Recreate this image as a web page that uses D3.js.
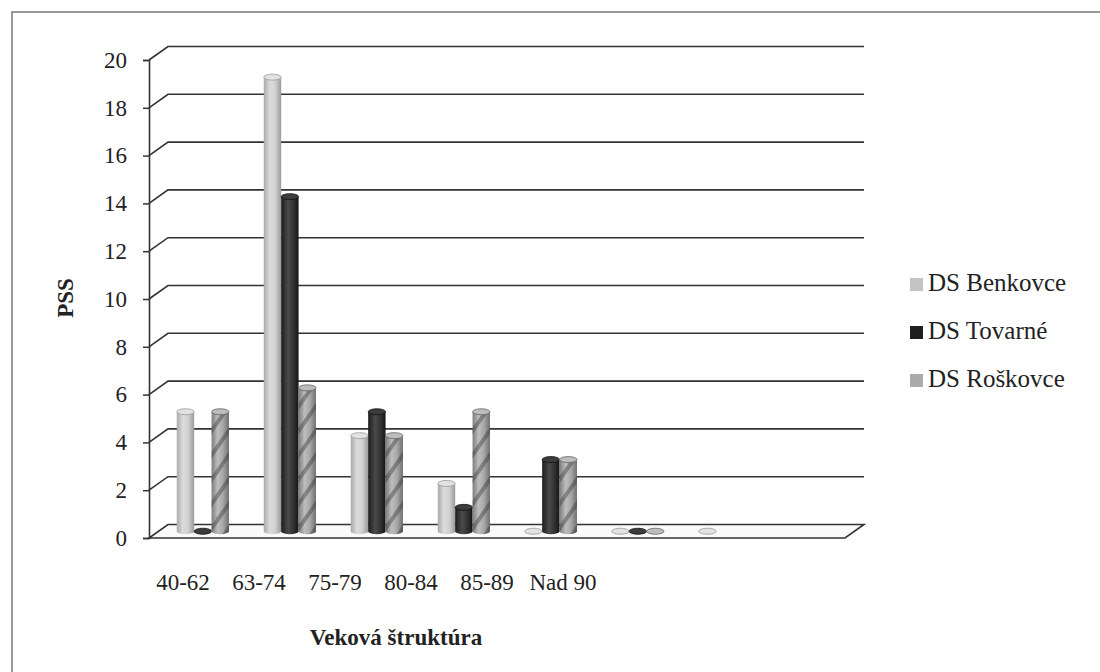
<!DOCTYPE html>
<html>
<head>
<meta charset="utf-8">
<script src="https://cdn.jsdelivr.net/npm/d3@7"></script>
<style>
  body { margin: 0; background: #fff; }
  svg text { font-family: "Liberation Serif", "Times New Roman", Times, "DejaVu Serif", serif !important; fill: #222; }
</style>
</head>
<body>
<div id="chart"></div>
<script>
var categories = ["40-62", "63-74", "75-79", "80-84", "85-89", "Nad 90", "", ""];
var seriesNames = ["DS Benkovce", "DS Tovarné", "DS Roškovce"];
var benkovce = [5, 19, 4, 2, 0, 0, 0, null];
var tovarne = [0, 14, 5, 1, 3, 0, null, null];
var roskovce = [5, 6, 4, 5, 3, 0, null, null];
var yTicks = [0, 2, 4, 6, 8, 10, 12, 14, 16, 18, 20];

var width = 1100, height = 672;
var plotLeft = 149, plotRight = 845, plotBottom = 538, plotTop = 60;
var depthX = 19, depthY = -13.5;
var serif = "'Liberation Serif', 'Times New Roman', Times, 'DejaVu Serif', serif";

var svg = d3.select("#chart").append("svg")
  .attr("width", width)
  .attr("height", height);

var defs = svg.append("defs");

function cylGradient(id, stops) {
  var g = defs.append("linearGradient").attr("id", id)
    .attr("x1", "0%").attr("x2", "100%").attr("y1", "0%").attr("y2", "0%");
  stops.forEach(function(s) {
    g.append("stop").attr("offset", s[0]).attr("stop-color", s[1]);
  });
}
cylGradient("g0", [["0%", "#a9a9a9"], ["35%", "#dcdcdc"], ["65%", "#d2d2d2"], ["100%", "#9a9a9a"]]);
cylGradient("g1", [["0%", "#1c1c1c"], ["40%", "#4a4a4a"], ["70%", "#333"], ["100%", "#151515"]]);
cylGradient("g2", [["0%", "#7d7d7d"], ["35%", "#bdbdbd"], ["65%", "#a8a8a8"], ["100%", "#6f6f6f"]]);

var pat = defs.append("pattern").attr("id", "streak")
  .attr("width", 14).attr("height", 22)
  .attr("patternUnits", "userSpaceOnUse")
  .attr("patternTransform", "rotate(35)");
pat.append("rect").attr("width", 4).attr("height", 22).attr("fill", "#333").attr("opacity", 0.4);

var fills = ["url(#g0)", "url(#g1)", "url(#g2)"];
var swatch = ["#c4c4c4", "#1f1f1f", "#ababab"];

var y = d3.scaleLinear().domain([0, 20]).range([plotBottom, plotTop]);
var x0 = d3.scaleBand().domain(d3.range(categories.length)).range([plotLeft, plotRight]);
var x1 = d3.scaleBand().domain(d3.range(seriesNames.length))
  .range([x0.bandwidth() * 0.21, x0.bandwidth() * 0.81]);

// outer frame (cropped on the right and bottom)
svg.append("path")
  .attr("d", "M12," + height + "V12H" + width)
  .attr("fill", "none")
  .attr("stroke", "#777")
  .attr("stroke-width", 1.5);

// floor
svg.append("path")
  .attr("d", "M" + plotLeft + "," + plotBottom + "H" + plotRight +
    "L" + (plotRight + depthX) + "," + (plotBottom + depthY) +
    "H" + (plotLeft + depthX) + "Z")
  .attr("fill", "#fafafa")
  .attr("stroke", "#333")
  .attr("stroke-width", 1.6);

// grid lines with the 3D step
var grid = svg.append("g");
grid.selectAll("path").data(yTicks.slice(1)).enter().append("path")
  .attr("d", function(d) {
    return "M" + plotLeft + "," + y(d) + "L" + (plotLeft + depthX) + "," + (y(d) + depthY) +
      "H" + (plotRight + depthX);
  })
  .attr("fill", "none")
  .attr("stroke", "#333")
  .attr("stroke-width", 1.6);

// y axis
var yAxis = svg.append("g")
  .attr("transform", "translate(" + plotLeft + ",0)")
  .call(d3.axisLeft(y).tickValues(yTicks).tickSize(6).tickPadding(16));
yAxis.attr("font-family", serif);
yAxis.select(".domain").attr("stroke", "#333").attr("stroke-width", 1.6);
yAxis.selectAll(".tick line").attr("stroke", "#333").attr("stroke-width", 1.5);
yAxis.selectAll(".tick text")
  .style("font-family", serif)
  .style("font-size", "23px")
  .attr("fill", "#222");

// cylinders
var series = [benkovce, tovarne, roskovce];
var rx = x1.bandwidth() / 2, ry = 3;
var baseY = plotBottom + depthY / 2;
var bars = [];
series.forEach(function(vals, s) {
  vals.forEach(function(v, c) {
    if (v === null) return;
    bars.push({ s: s, c: c, v: v });
  });
});

function bodyPath(d) {
  var t = y(d.v) + depthY / 2;
  return "M" + (-rx) + "," + t + "V" + baseY +
    "A" + rx + "," + ry + " 0 0 0 " + rx + "," + baseY +
    "V" + t + "Z";
}

var cyl = svg.append("g").selectAll("g").data(bars).enter().append("g")
  .attr("transform", function(d) {
    return "translate(" + (x0(d.c) + x1(d.s) + depthX / 2 + rx) + ",0)";
  });

cyl.append("path")
  .attr("d", bodyPath)
  .attr("fill", function(d) { return fills[d.s]; });

cyl.filter(function(d) { return d.s === 2 && d.v > 0; }).append("path")
  .attr("d", bodyPath)
  .attr("fill", "url(#streak)");

cyl.append("ellipse")
  .attr("cx", 0)
  .attr("cy", function(d) { return y(d.v) + depthY / 2; })
  .attr("rx", rx)
  .attr("ry", ry)
  .attr("fill", function(d) { return ["#e2e2e2", "#3c3c3c", "#bcbcbc"][d.s]; })
  .attr("stroke", function(d) { return ["#9a9a9a", "#111", "#666"][d.s]; })
  .attr("stroke-width", 0.8);

// category labels
var xl = d3.scaleBand().domain(d3.range(categories.length)).range([145, 753]);
svg.append("g").selectAll("text").data(categories).enter().append("text")
  .attr("x", function(d, i) { return xl(i) + xl.bandwidth() / 2; })
  .attr("y", 590)
  .attr("text-anchor", "middle")
  .style("font-family", serif)
  .style("font-size", "23px")
  .text(function(d) { return d; });

// axis titles
svg.append("text")
  .attr("x", 396)
  .attr("y", 645)
  .attr("text-anchor", "middle")
  .style("font-family", serif)
  .style("font-size", "23px")
  .style("font-weight", "bold")
  .text("Veková štruktúra");

svg.append("text")
  .attr("transform", "translate(73,298) rotate(-90)")
  .attr("text-anchor", "middle")
  .style("font-family", serif)
  .style("font-size", "23px")
  .style("font-weight", "bold")
  .text("PSS");

// legend
var ly = d3.scalePoint().domain(d3.range(seriesNames.length)).range([291, 387]);
var legend = svg.append("g").selectAll("g").data(seriesNames).enter().append("g")
  .attr("transform", function(d, i) { return "translate(910," + ly(i) + ")"; });
legend.append("rect")
  .attr("x", 0).attr("y", -13)
  .attr("width", 13).attr("height", 13)
  .attr("fill", function(d, i) { return swatch[i]; });
legend.append("text")
  .attr("x", 18)
  .attr("y", 0)
  .style("font-family", serif)
  .style("font-size", "25px")
  .text(function(d) { return d; });
</script>
</body>
</html>
